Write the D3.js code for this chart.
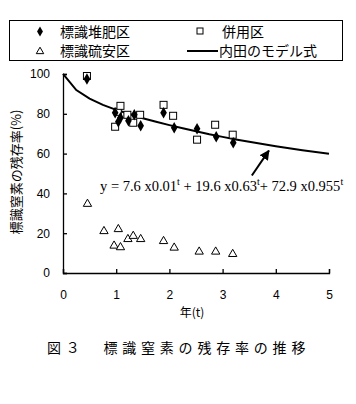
<!DOCTYPE html>
<html><head><meta charset="utf-8">
<script src="https://cdn.jsdelivr.net/npm/d3@7"></script>
<style>
html,body{margin:0;padding:0;background:#fff;}
svg{display:block;}
</style></head>
<body>
<svg id="c" width="356" height="404"></svg>
<script>
// ---- data ----
const seriesNames = ["標識堆肥区", "併用区", "標識硫安区", "内田のモデル式"];
const compostT = [0.45, 0.98, 1.04, 1.08, 1.23, 1.34, 1.46, 1.89, 2.09, 2.52, 2.88, 3.2];
const compostY = [97.5, 80.5, 76, 78, 76.5, 79.5, 74, 80.5, 73, 72.5, 68.5, 65.5];
const combinedT = [0.45, 0.98, 1.03, 1.08, 1.21, 1.32, 1.45, 1.89, 2.07, 2.52, 2.86, 3.19];
const combinedY = [99, 73.5, 81, 84, 79.5, 75.5, 79.5, 84.5, 79, 67, 74.5, 69.5];
const sulfateT = [0.46, 0.77, 1.04, 0.96, 1.08, 1.22, 1.32, 1.46, 1.89, 2.09, 2.56, 2.87, 3.19];
const sulfateY = [34.7, 21, 22, 13.7, 12.9, 17, 18.6, 17, 16, 12.7, 10.7, 10.7, 9.5];
const modelT = [0, 0.25, 0.5, 0.75, 1, 1.25, 1.5, 1.75, 2, 2.25, 2.5, 2.75, 3, 3.25, 3.5, 3.75, 4, 4.25, 4.5, 4.75, 5];
const modelY = [100.1, 91.9, 87.6, 84.5, 82.0, 79.9, 77.8, 76.0, 74.3, 72.7, 71.2, 69.7, 68.4, 67.1, 65.9, 64.8, 63.7, 62.7, 61.7, 60.8, 59.9];
const xTicks = [0, 1, 2, 3, 4, 5];
const yTicks = [0, 20, 40, 60, 80, 100];
const xTitle = "年(t)";
const yTitle = "標識窒素の残存率(%)";
const caption = "図３　標識窒素の残存率の推移";
const arrowFrom = [3.55, 49];
const arrowTo = [3.87, 61.5];

// ---- drawing ----
const svg = d3.select("#c");
const x = d3.scaleLinear().domain([0, 5]).range([63, 329]);
const y = d3.scaleLinear().domain([0, 100]).range([273, 74]);
const jp = "'Noto Sans CJK JP', sans-serif";
const num = "'Liberation Sans', Arial, sans-serif";

// legend
const lg = svg.append("g");
lg.append("rect").attr("x", 9.5).attr("y", 20.5).attr("width", 333).attr("height", 40)
  .attr("fill", "none").attr("stroke", "#000").attr("stroke-width", 1);
const sym = d3.symbol();
lg.append("path").attr("d", sym.type(d3.symbolDiamond).size(30)()).attr("transform", "translate(40,31.5)").attr("fill", "#000");
lg.append("rect").attr("x", 197).attr("y", 28).attr("width", 6).attr("height", 6).attr("fill", "#fff").attr("stroke", "#000");
lg.append("path").attr("d", sym.type(d3.symbolTriangle).size(24)()).attr("transform", "translate(40,51.5)").attr("fill", "#fff").attr("stroke", "#000");
lg.append("line").attr("x1", 187).attr("x2", 218).attr("y1", 51).attr("y2", 51).attr("stroke", "#000").attr("stroke-width", 2);
const lgText = [[60, 31.5, seriesNames[0]], [222, 31.5, seriesNames[1]], [60, 51, seriesNames[2]], [219, 51, seriesNames[3]]];
lg.selectAll("text.l").data(lgText).join("text").attr("class", "l")
  .attr("x", d => d[0]).attr("y", d => d[1]).attr("dy", "0.36em")
  .attr("font-family", jp).attr("font-size", 14).attr("fill", "#000").text(d => d[2]);

// axes
const gx = svg.append("g").attr("transform", "translate(0,273)")
  .call(d3.axisBottom(x).tickValues(xTicks).tickSize(-4).tickPadding(17).tickFormat(d3.format("d")));
const gy = svg.append("g").attr("transform", "translate(63,0)")
  .call(d3.axisLeft(y).tickValues(yTicks).tickSize(-4).tickPadding(13).tickFormat(d3.format("d")));
[gx, gy].forEach(g => {
  g.select(".domain").attr("stroke", "#000").attr("stroke-width", 1.3);
  g.selectAll(".tick line").attr("stroke", "#000").attr("stroke-width", 1.3);
  g.selectAll(".tick text").attr("font-family", num).attr("font-size", 12).attr("fill", "#000");
});

// axis titles
svg.append("text").attr("x", 192).attr("y", 313).attr("dy", "0.36em").attr("text-anchor", "middle")
  .attr("font-family", jp).attr("font-size", 12).text(xTitle);
svg.append("text").attr("transform", "translate(16,172) rotate(-90)").attr("dy", "0.36em").attr("text-anchor", "middle")
  .attr("font-family", jp).attr("font-size", 13).text(yTitle);

// model line
const modelData = modelT.map((t, i) => [t, modelY[i]]);
svg.append("path").datum(modelData)
  .attr("d", d3.line().x(d => x(d[0])).y(d => y(d[1])))
  .attr("fill", "none").attr("stroke", "#000").attr("stroke-width", 2);

// points
const comb = combinedT.map((t, i) => [t, combinedY[i]]);
svg.selectAll("rect.sq").data(comb).join("rect").attr("class", "sq")
  .attr("x", d => x(d[0]) - 3.5).attr("y", d => y(d[1]) - 3.5).attr("width", 7).attr("height", 7)
  .attr("fill", "#fff").attr("stroke", "#000").attr("stroke-width", 1);
const comp = compostT.map((t, i) => [t, compostY[i]]);
svg.selectAll("path.dm").data(comp).join("path").attr("class", "dm")
  .attr("d", sym.type(d3.symbolDiamond).size(38)())
  .attr("transform", d => `translate(${x(d[0])},${y(d[1])})`).attr("fill", "#000");
const sulf = sulfateT.map((t, i) => [t, sulfateY[i]]);
svg.selectAll("path.tr").data(sulf).join("path").attr("class", "tr")
  .attr("d", sym.type(d3.symbolTriangle).size(30)())
  .attr("transform", d => `translate(${x(d[0])},${y(d[1])})`).attr("fill", "#fff").attr("stroke", "#000").attr("stroke-width", 1);

// equation
const eq = svg.append("text").attr("x", 100).attr("y", 191)
  .attr("font-family", "'Liberation Serif', 'Times New Roman', serif").attr("font-size", 14.5).attr("fill", "#000");
const parts = [["y = 7.6 x0.01", false], ["t", true], [" + 19.6 x0.63", false], ["t", true], ["+ 72.9 x0.955", false], ["t", true]];
parts.forEach((p, i) => {
  const ts = eq.append("tspan").text(p[0]);
  if (p[1]) ts.attr("font-size", 10).attr("dy", -6);
  else ts.attr("dy", i > 0 ? 6 : 0);
});

// arrow
svg.append("defs").append("marker").attr("id", "ah").attr("viewBox", "0 0 10 10")
  .attr("refX", 9).attr("refY", 5).attr("markerWidth", 5).attr("markerHeight", 5).attr("orient", "auto")
  .append("path").attr("d", "M0,0L10,5L0,10Z").attr("fill", "#000");
svg.append("line").attr("x1", x(arrowFrom[0])).attr("y1", y(arrowFrom[1]))
  .attr("x2", x(arrowTo[0])).attr("y2", y(arrowTo[1]))
  .attr("stroke", "#000").attr("stroke-width", 2).attr("marker-end", "url(#ah)");

// caption
svg.append("text").attr("x", 47).attr("y", 348).attr("dy", "0.36em")
  .attr("font-family", jp).attr("font-size", 14).attr("letter-spacing", 4.8).text(caption);
</script>
</body></html>
